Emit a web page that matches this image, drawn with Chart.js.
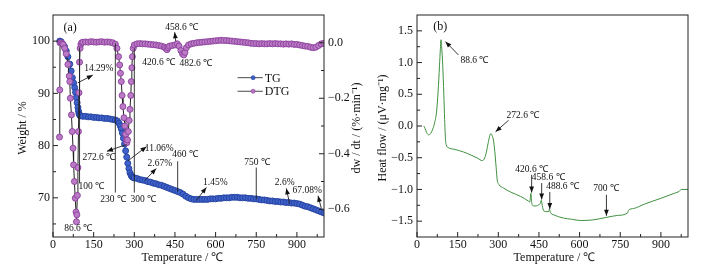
<!DOCTYPE html>
<html>
<head>
<meta charset="utf-8">
<script src="https://cdn.jsdelivr.net/npm/chart.js@4.4.0/dist/chart.umd.min.js"></script>
<style>
  body { margin: 0; background: #fff; }
  canvas { position: absolute; top: 0; }
  #chartA { left: 0; }
  #chartB { left: 372px; }
</style>
</head>
<body>
<canvas id="chartA" width="372" height="272"></canvas>
<canvas id="chartB" width="339" height="272"></canvas>
<script>
// tick labels
const tempTicks = [0, 150, 300, 450, 600, 750, 900];
const tempMinor = [75, 225, 375, 525, 675, 825, 975];
const weightTicks = [70, 80, 90, 100];
const weightMinor = [65, 75, 85, 95];
const dtgTicks = [-0.6, -0.4, -0.2, 0.0];
const dtgMinor = [-0.5, -0.3, -0.1];
const hfTicks = [-1.5, -1.0, -0.5, 0.0, 0.5, 1.0, 1.5];
const hfMinor = [-1.25, -0.75, -0.25, 0.25, 0.75, 1.25];

// TG curve (weight %)
const tgTemp = [25, 30, 37, 43, 49, 55, 62, 67, 71.5, 76, 80, 83, 86, 89, 92, 94, 96, 98, 100,
  110, 120, 130, 140, 150, 160, 170, 180, 190, 200, 210, 220, 230, 238, 244, 248, 252, 256, 260,
  264, 268, 272, 276, 280, 284, 288, 292, 296, 300, 310, 320, 330, 340, 350, 360, 370, 380, 390,
  400, 410, 420, 430, 440, 450, 460, 470, 480, 490, 500, 510, 520, 530, 540, 550, 560, 570, 580,
  590, 600, 610, 620, 630, 640, 650, 660, 670, 680, 690, 700, 710, 720, 730, 740, 750, 760, 770,
  780, 790, 800, 810, 820, 830, 840, 850, 860, 870, 880, 890, 900, 910, 920, 930, 940, 950, 960,
  970, 980, 990, 1000];
const tgWeight = [100.0, 99.9, 99.4, 98.9, 98.1, 97.0, 95.6, 94.3, 93.0, 92.0, 91.1, 90.2, 89.2, 88.2, 87.3, 86.6, 86.1, 85.9, 85.7,
  85.6, 85.6, 85.5, 85.5, 85.4, 85.4, 85.3, 85.3, 85.2, 85.2, 85.1, 85.0, 84.9, 84.7, 84.3, 83.8, 83.2, 82.4, 81.4,
  80.3, 79.0, 77.8, 76.6, 75.6, 74.8, 74.3, 74.0, 73.9, 73.8, 73.7, 73.5, 73.4, 73.3, 73.1, 73.0, 72.8, 72.7, 72.5,
  72.4, 72.2, 72.0, 71.8, 71.6, 71.4, 71.2, 71.0, 70.7, 70.3, 70.0, 69.8, 69.7, 69.7, 69.7, 69.7, 69.7, 69.7, 69.8,
  69.8, 69.8, 69.9, 69.9, 70.0, 70.0, 70.0, 70.1, 70.1, 70.1, 70.0, 70.0, 70.0, 69.9, 69.9, 69.8, 69.8, 69.7, 69.6,
  69.6, 69.5, 69.4, 69.4, 69.3, 69.3, 69.2, 69.2, 69.1, 69.1, 69.0, 69.0, 68.9, 68.8, 68.6, 68.4, 68.3, 68.1, 67.9,
  67.7, 67.5, 67.3, 67.1];

// DTG curve (%/min)
const dtgTemp = [24, 25, 26, 30, 34, 37, 43, 49, 55, 60, 62, 64, 68, 71, 74, 76, 79, 82, 85, 86.6,
  88, 90, 92, 94, 96, 98, 100, 103, 106, 110, 120, 130, 140, 150, 160, 170, 180, 190, 200, 210,
  220, 230, 236, 242, 246, 249, 252, 255, 258, 262, 265, 268, 271, 272.6, 275, 278, 281, 284, 287, 289,
  291, 293, 296, 300, 310, 320, 330, 340, 350, 360, 370, 380, 390, 400, 410, 415, 420.6, 425, 430, 440,
  450, 458.6, 465, 472, 478, 482.6, 487, 492, 500, 510, 520, 530, 540, 550, 560, 570, 580, 590, 600, 610,
  620, 630, 640, 650, 660, 670, 680, 690, 700, 710, 720, 730, 740, 750, 760, 770, 780, 790, 800, 810,
  820, 830, 840, 850, 860, 870, 880, 890, 900, 910, 920, 930, 940, 950, 960, 970, 980, 990, 1000];
const dtgRate = [-0.34, -0.17, 0.0, 0.0, -0.003, -0.006, -0.02, -0.04, -0.078, -0.12, -0.14, -0.20, -0.26, -0.32, -0.38, -0.44, -0.50, -0.56, -0.61, -0.645,
  -0.62, -0.55, -0.45, -0.32, -0.18, -0.07, -0.02, -0.005, 0.0, 0.002, 0.003, 0.002, 0.004, 0.003, 0.002, 0.003, 0.004, 0.002, 0.003, 0.002,
  0.0, -0.005, -0.02, -0.05, -0.08, -0.11, -0.14, -0.19, -0.23, -0.27, -0.30, -0.33, -0.35, -0.36, -0.35, -0.32, -0.28, -0.24, -0.19, -0.14,
  -0.09, -0.05, -0.02, -0.008, -0.004, -0.003, -0.004, -0.004, -0.005, -0.006, -0.007, -0.008, -0.010, -0.012, -0.015, -0.020, -0.025, -0.018, -0.012, -0.010,
  -0.008, -0.004, -0.012, -0.028, -0.040, -0.044, -0.035, -0.018, -0.008, -0.004, -0.002, 0.0, 0.001, 0.002, 0.003, 0.004, 0.005, 0.006, 0.007, 0.008,
  0.009, 0.008, 0.008, 0.007, 0.006, 0.005, 0.004, 0.003, 0.002, 0.001, 0.0, -0.002, -0.003, -0.003, -0.004, -0.003, -0.004, -0.004, -0.003, -0.004,
  -0.003, -0.004, -0.004, -0.005, -0.004, -0.005, -0.004, -0.006, -0.006, -0.008, -0.010, -0.012, -0.013, -0.016, -0.018, -0.016, -0.010, -0.004, -0.002];

// heat flow curve (uV/mg)
const hfTemp = [25, 30, 35, 43, 50, 58, 65, 72, 78, 83, 86, 88.6, 91, 95, 99, 102, 105, 108, 115, 140,
  172, 200, 225, 240, 248, 255, 262, 268, 272.6, 277, 282, 287, 292, 296, 302, 320, 345, 382, 410, 416,
  420.6, 423, 430, 440, 450, 455, 458.6, 462, 468, 480, 486, 488.6, 492, 505, 540, 570, 604, 650, 700, 740,
  777, 780, 800, 840, 900, 950, 968, 975, 1000];
const hfValue = [0.00, -0.04, -0.10, -0.14, -0.12, -0.05, 0.05, 0.22, 0.55, 0.95, 1.20, 1.36, 1.25, 0.95, 0.50, 0.10, -0.20, -0.30, -0.34, -0.37,
  -0.41, -0.46, -0.51, -0.545, -0.52, -0.43, -0.28, -0.16, -0.12, -0.15, -0.22, -0.40, -0.65, -0.85, -0.92, -0.98, -1.04, -1.11, -1.18, -1.20,
  -1.06, -1.20, -1.26, -1.26, -1.24, -1.22, -1.17, -1.25, -1.34, -1.35, -1.35, -1.31, -1.36, -1.40, -1.45, -1.47, -1.49, -1.48, -1.44, -1.41,
  -1.37, -1.33, -1.30, -1.23, -1.14, -1.06, -1.03, -1.00, -1.00];

// annotations: [text, temperature, value]  and arrows/lines: [t1, v1, t2, v2, head]
const notesA = [
  ['(a)', 63, 102.5], ['458.6 ℃', 475, 102.7], ['420.6 ℃', 390, 96.0], ['482.6 ℃', 527, 95.8],
  ['14.29%', 169, 94.7], ['272.6 ℃', 169, 77.7], ['11.06%', 392, 79.4], ['460 ℃', 487, 78.3],
  ['2.67%', 394, 76.5], ['100 ℃', 141, 72.2], ['86.6 ℃', 93, 64.1], ['230 ℃', 222, 69.6],
  ['300 ℃', 333, 69.6], ['1.45%', 599, 72.9], ['750 ℃', 753, 76.7], ['2.6%', 855, 72.9],
  ['67.08%', 938, 71.4]
];
const arrowsA = [
  [453, 100.0, 449, 101.7, true], [91, 92.0, 147, 93.5, true], [271, 80.2, 199, 78.9, true],
  [277, 77.1, 345, 79.8, true], [338, 73.3, 381, 75.6, true], [529, 69.5, 566, 72.0, true],
  [873, 68.9, 861, 71.8, true], [990, 68.0, 978, 70.4, true],
  [98, 98.8, 98, 72.8, false], [230, 99.6, 230, 71.0, false], [300, 98.6, 300, 71.0, false],
  [460, 77.0, 460, 71.2, false], [750, 75.8, 750, 69.7, false]
];
const notesB = [
  ['(b)', 86, 1.56], ['88.6 ℃', 212, 1.04], ['272.6 ℃', 391, 0.16], ['420.6 ℃', 423, -0.68],
  ['458.6 ℃', 484, -0.81], ['488.6 ℃', 537, -0.96], ['700 ℃', 698, -0.99]
];
const arrowsB = [
  [153, 1.12, 105, 1.33, true], [338, 0.09, 290, -0.09, true], [423, -0.77, 423, -1.05, true],
  [460, -0.90, 460, -1.16, true], [490, -1.04, 490, -1.31, true], [699, -1.085, 699, -1.415, true]
];

const serif = '"Liberation Serif", "Times New Roman", serif';
Chart.defaults.font.family = serif;
Chart.defaults.font.size = 12;
Chart.defaults.color = '#111';

const tgFill = '#3f62cc', tgEdge = '#22409c';
const dtgFill = '#bb7ac6', dtgEdge = '#8a3f9b';

const fmt1 = v => (v < 0 ? '\u2212' : '') + Math.abs(v).toFixed(1);

function axis(ticksList, opts) {
  return Object.assign({
    type: 'linear',
    grid: { display: false, drawTicks: false },
    border: { display: false },
    afterBuildTicks: s => { s.ticks = ticksList.map(v => ({ value: v })); },
    ticks: { autoSkip: false, maxRotation: 0, padding: 3 }
  }, opts);
}

function arrow(ctx, x1, y1, x2, y2, head) {
  ctx.beginPath();
  ctx.moveTo(x1, y1);
  ctx.lineTo(x2, y2);
  ctx.stroke();
  if (!head) return;
  const ang = Math.atan2(y2 - y1, x2 - x1);
  const L = 6, W = 2.4;
  const bx = x2 - L * Math.cos(ang), by = y2 - L * Math.sin(ang);
  ctx.beginPath();
  ctx.moveTo(x2, y2);
  ctx.lineTo(bx + W * Math.sin(ang), by - W * Math.cos(ang));
  ctx.lineTo(bx - W * Math.sin(ang), by + W * Math.cos(ang));
  ctx.closePath();
  ctx.fill();
}

// frame, inward ticks, titles, notes, legend
function decoPlugin(cfg) {
  return {
    id: 'deco',
    afterDraw(chart) {
      const { ctx, chartArea: a, scales } = chart;
      const xs = scales.x, ys = scales.y;
      ctx.save();
      ctx.strokeStyle = '#222';
      ctx.fillStyle = '#111';
      ctx.lineWidth = 1;
      ctx.strokeRect(a.left, a.top, a.right - a.left, a.bottom - a.top);

      ctx.beginPath();
      tempTicks.forEach(v => { const p = xs.getPixelForValue(v); ctx.moveTo(p, a.bottom); ctx.lineTo(p, a.bottom - 5); });
      tempMinor.forEach(v => { const p = xs.getPixelForValue(v); ctx.moveTo(p, a.bottom); ctx.lineTo(p, a.bottom - 3); });
      cfg.yMajor.forEach(v => { const p = ys.getPixelForValue(v); ctx.moveTo(a.left, p); ctx.lineTo(a.left + 5, p); });
      cfg.yMinor.forEach(v => { const p = ys.getPixelForValue(v); ctx.moveTo(a.left, p); ctx.lineTo(a.left + 3, p); });
      if (scales.y2) {
        dtgTicks.forEach(v => { const p = scales.y2.getPixelForValue(v); ctx.moveTo(a.right, p); ctx.lineTo(a.right - 5, p); });
        dtgMinor.forEach(v => { const p = scales.y2.getPixelForValue(v); ctx.moveTo(a.right, p); ctx.lineTo(a.right - 3, p); });
      }
      ctx.stroke();

      // axis titles
      ctx.font = '12px ' + serif;
      ctx.textAlign = 'center';
      ctx.textBaseline = 'middle';
      ctx.fillText('Temperature / ℃', (a.left + a.right) / 2 + cfg.xTitleShift, a.bottom + 21);
      cfg.yTitles.forEach(([txt, dx]) => {
        ctx.save();
        ctx.translate(dx < 0 ? a.left + dx : a.right + dx, (a.top + a.bottom) / 2 + 2);
        ctx.rotate(-Math.PI / 2);
        ctx.fillText(txt, 0, 0);
        ctx.restore();
      });

      // notes
      ctx.lineWidth = 0.9;
      cfg.notes.forEach(([txt, t, v]) => {
        ctx.font = (txt.startsWith('(') ? '12px ' : '9.5px ') + serif;
        ctx.fillText(txt, xs.getPixelForValue(t), ys.getPixelForValue(v));
      });
      cfg.arrows.forEach(([t1, v1, t2, v2, head]) => {
        arrow(ctx, xs.getPixelForValue(t1), ys.getPixelForValue(v1),
          xs.getPixelForValue(t2), ys.getPixelForValue(v2), head);
      });

      // legend
      if (cfg.legend) {
        ctx.font = '12px ' + serif;
        ctx.textAlign = 'left';
        cfg.legend.forEach(([txt, v, fill, edge]) => {
          const y = ys.getPixelForValue(v);
          const x1 = xs.getPixelForValue(681), x2 = xs.getPixelForValue(774);
          ctx.strokeStyle = '#333';
          ctx.beginPath(); ctx.moveTo(x1, y); ctx.lineTo(x2, y); ctx.stroke();
          ctx.beginPath(); ctx.arc((x1 + x2) / 2 + 3, y, 2, 0, Math.PI * 2);
          ctx.fillStyle = fill; ctx.fill();
          ctx.strokeStyle = edge; ctx.lineWidth = 0.7; ctx.stroke();
          ctx.lineWidth = 0.9;
          ctx.fillStyle = '#111';
          ctx.fillText(txt, x2 + 2, y + 1);
        });
      }
      ctx.restore();
    }
  };
}

new Chart(document.getElementById('chartA'), {
  type: 'line',
  data: {
    datasets: [
      {
        label: 'TG',
        data: tgTemp.map((t, i) => ({ x: t, y: tgWeight[i] })),
        yAxisID: 'y',
        order: 2,
        borderColor: '#222',
        borderWidth: 1,
        pointRadius: 3,
        pointBackgroundColor: tgFill,
        pointBorderColor: tgEdge,
        pointBorderWidth: 0.9
      },
      {
        label: 'DTG',
        data: dtgTemp.map((t, i) => ({ x: t, y: dtgRate[i] })),
        yAxisID: 'y2',
        order: 1,
        borderColor: '#222',
        borderWidth: 1,
        pointRadius: 3,
        pointBackgroundColor: dtgFill,
        pointBorderColor: dtgEdge,
        pointBorderWidth: 0.9
      }
    ]
  },
  options: {
    responsive: false,
    animation: false,
    events: [],
    layout: { padding: { top: 15, left: 0, right: 0, bottom: 0 } },
    plugins: { legend: { display: false }, tooltip: { enabled: false } },
    scales: {
      x: axis(tempTicks, { min: 0, max: 1000, afterFit: s => { s.height = 35; },
        ticks: { autoSkip: false, maxRotation: 0, padding: 1 } }),
      y: axis(weightTicks, { position: 'left', min: 62.5, max: 105, afterFit: s => { s.width = 53; } }),
      y2: axis(dtgTicks, { position: 'right', min: -0.7, max: 0.1, afterFit: s => { s.width = 48; },
        ticks: { autoSkip: false, padding: 4, callback: v => fmt1(v) } })
    }
  },
  plugins: [decoPlugin({
    yMajor: weightTicks, yMinor: weightMinor, xTitleShift: -6,
    yTitles: [['Weight / %', -30], ['dw / dt / (%·min⁻¹)', 33]],
    notes: notesA, arrows: arrowsA,
    legend: [['TG', 93.0, tgFill, tgEdge], ['DTG', 90.4, dtgFill, dtgEdge]]
  })]
});

new Chart(document.getElementById('chartB'), {
  type: 'line',
  data: {
    datasets: [{
      label: 'Heat flow',
      data: hfTemp.map((t, i) => ({ x: t, y: hfValue[i] })),
      borderColor: '#3f8f3f',
      borderWidth: 1,
      pointRadius: 0,
      cubicInterpolationMode: 'monotone'
    }]
  },
  options: {
    responsive: false,
    animation: false,
    events: [],
    layout: { padding: { top: 15, left: 0, right: 23, bottom: 0 } },
    plugins: { legend: { display: false }, tooltip: { enabled: false } },
    scales: {
      x: axis(tempTicks, { min: 0, max: 1000, afterFit: s => { s.height = 35; },
        ticks: { autoSkip: false, maxRotation: 0, padding: 1 } }),
      y: axis(hfTicks, { position: 'left', min: -1.75, max: 1.75, afterFit: s => { s.width = 45; },
        ticks: { autoSkip: false, padding: 4, callback: v => fmt1(v) } })
    }
  },
  plugins: [decoPlugin({
    yMajor: hfTicks, yMinor: hfMinor, xTitleShift: 2,
    yTitles: [['Heat flow / (μV·mg⁻¹)', -34]],
    notes: notesB, arrows: arrowsB
  })]
});
</script>
</body>
</html>
